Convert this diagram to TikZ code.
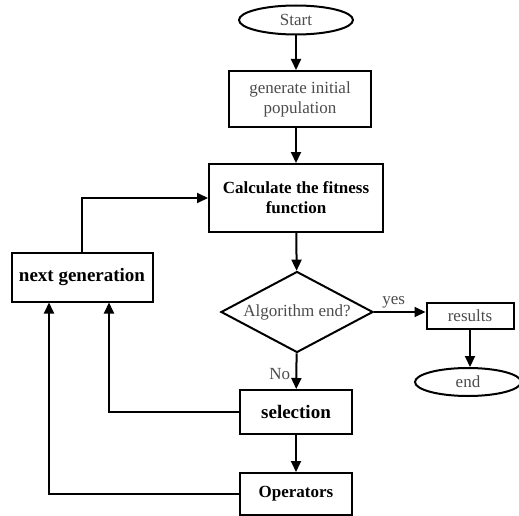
\documentclass[tikz,border=0pt]{standalone}
\usepackage{fontspec}
\setmainfont{Liberation Serif}
\usetikzlibrary{shapes.geometric,arrows.meta}

\begin{document}
\begin{tikzpicture}[x=1pt, y=-1pt, line width=2pt, >={Triangle[length=11pt,width=10pt]},
	font=\fontsize{17}{20}\selectfont,
	box/.style={draw, rectangle, inner sep=0pt, align=center},
	term/.style={draw, ellipse, inner sep=0pt},
	decision/.style={draw, diamond, inner sep=0pt, aspect=1.88},
	light/.style={text=black!70},
	heavy/.style={font=\fontsize{17}{20}\selectfont\bfseries}]
	\useasboundingbox (0,0) rectangle (519,516);
	% main column
	\node[term, light, minimum width=114pt, minimum height=29pt] (start) at (296,20) {Start};
	\node[box, light, minimum width=142pt, minimum height=56pt] (init) at (300,99) {generate initial\\population};
	\node[box, heavy, minimum width=174pt, minimum height=68pt] (fitness) at (296,198) {Calculate the fitness\\function};
	\node[decision, light, minimum width=152pt, minimum height=81pt] (cond) at (297,312) {Algorithm end?};
	\node[box, heavy, font=\fontsize{19}{22}\selectfont\bfseries, minimum width=112pt, minimum height=44pt] (sel) at (296,412) {selection};
	\node[box, heavy, minimum width=112pt, minimum height=42pt] (ops) at (296,494) {Operators};
	% exit branch
	\node[box, light, minimum width=87pt, minimum height=26pt] (results) at (470,316) {results};
	\node[term, light, minimum width=106pt, minimum height=28pt] (end) at (468,382) {end};
	% loop back
	\node[box, heavy, font=\fontsize{19}{22}\selectfont\bfseries, minimum width=141pt, minimum height=49pt] (nextgen) at (82,277) {next generation};

	\draw[->] (start) -- (start |- init.north);
	\draw[->] (fitness |- init.south) -- (fitness.north);
	\draw[->] (fitness) -- (cond);
	\draw[->] (cond.east) -- (cond.east -| results.west) node[midway, above, light, xshift=-6pt] {yes};
	\draw[->] (results) -- (results |- end.north);
	\draw[->] (cond) -- (sel) node[midway, left=2pt, light, yshift=-3pt] {No};
	\draw[->] (sel) -- (ops);
	\draw[->] (nextgen.north) |- (fitness.west);
	\draw[->] (sel.west) -| ([xshift=27pt]nextgen.south);
	\draw[->] (ops.west) -| ([xshift=-33pt]nextgen.south);
\end{tikzpicture}
\end{document}
